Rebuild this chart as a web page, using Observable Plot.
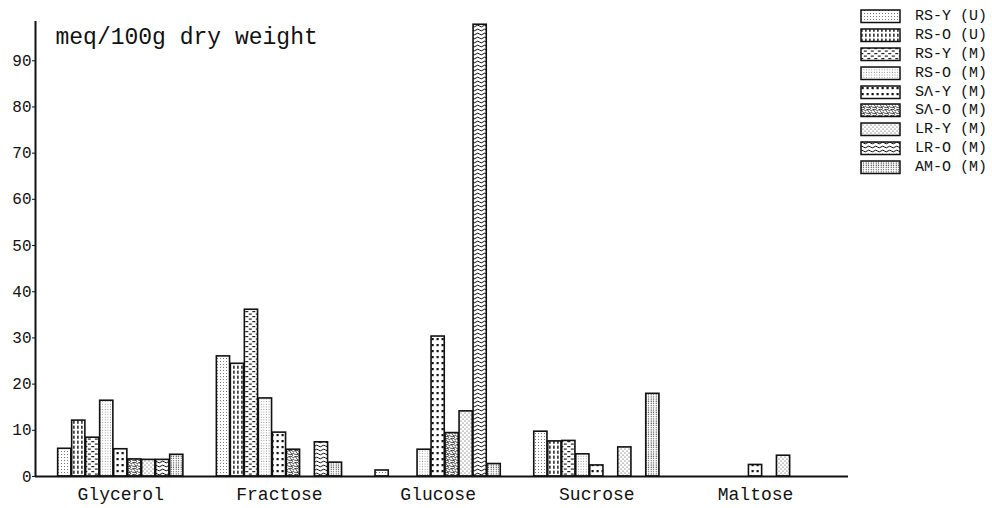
<!DOCTYPE html>
<html>
<head>
<meta charset="utf-8">
<script src="https://cdn.jsdelivr.net/npm/d3@7"></script>
<script src="https://cdn.jsdelivr.net/npm/@observablehq/plot@0.6"></script>
<style>
  html, body { margin: 0; padding: 0; background: white; }
  #wrap { position: relative; width: 992px; height: 508px; }
  #chart svg { display: block; }
  #legend { position: absolute; left: 860px; top: 7px; font-family: 'Liberation Mono', monospace; font-size: 15px; color: #111; }
  .lrow { display: flex; align-items: center; height: 18.9px; }
  .lrow span { margin-left: 13px; white-space: pre; }
</style>
</head>
<body>
<svg width="0" height="0" style="position:absolute">
  <defs>
    <pattern id="pat0" width="3" height="3" patternUnits="userSpaceOnUse"><rect width="3" height="3" fill="white"/><rect x="1" y="1" width="0.9" height="0.9" fill="#555"/></pattern>
    <pattern id="pat1" width="4" height="5" patternUnits="userSpaceOnUse"><rect width="4" height="5" fill="white"/><rect x="1.2" y="0.6" width="1.4" height="3.2" fill="#111"/></pattern>
    <pattern id="pat2" width="7" height="5" patternUnits="userSpaceOnUse"><rect width="7" height="5" fill="white"/><rect x="0.3" y="1" width="3" height="1.2" fill="#222"/><rect x="3.8" y="3.5" width="3" height="1.2" fill="#222"/></pattern>
    <pattern id="pat3" width="2.6" height="2.6" patternUnits="userSpaceOnUse"><rect width="2.6" height="2.6" fill="white"/><rect x="0.8" y="0.8" width="0.8" height="0.8" fill="#666"/></pattern>
    <pattern id="pat4" width="5" height="6" patternUnits="userSpaceOnUse"><rect width="5" height="6" fill="white"/><rect x="1.5" y="2" width="2.2" height="2.2" fill="#111"/></pattern>
    <pattern id="pat5" width="6" height="6" patternUnits="userSpaceOnUse"><rect width="6" height="6" fill="white"/><path d="M0 1 Q3 -1 6 2 M0 4 Q3 6 6 3 M1 0 L5 6" stroke="#222" stroke-width="0.8" fill="none"/></pattern>
    <pattern id="pat6" width="4" height="4" patternUnits="userSpaceOnUse"><rect width="4" height="4" fill="white"/><circle cx="1" cy="1" r="0.55" fill="#333"/><circle cx="3" cy="3" r="0.55" fill="#333"/></pattern>
    <pattern id="pat7" width="7" height="4" patternUnits="userSpaceOnUse"><rect width="7" height="4" fill="white"/><path d="M0 2 Q1.75 0.3 3.5 2 T7 2" stroke="#111" stroke-width="1" fill="none"/></pattern>
    <pattern id="pat8" width="2.5" height="2.2" patternUnits="userSpaceOnUse"><rect width="2.5" height="2.2" fill="white"/><rect x="0.7" y="0.3" width="0.9" height="1.2" fill="#222"/></pattern>
  </defs>
</svg>
<div id="wrap">
  <div id="chart"></div>
  <div id="legend"></div>
</div>
<script>
// ---- data ----
const categories = ["Glycerol", "Fractose", "Glucose", "Sucrose", "Maltose"];
const seriesNames = ["RS-Y (U)", "RS-O (U)", "RS-Y (M)", "RS-O (M)", "SΛ-Y (M)", "SΛ-O (M)", "LR-Y (M)", "LR-O (M)", "AM-O (M)"];
const rsYU = [6.0, 26.0, 1.3, 9.7, null];
const rsOU = [12.1, 24.4, null, 7.6, null];
const rsYM = [8.4, 36.1, null, 7.7, null];
const rsOM = [16.4, 16.9, 5.8, 4.8, null];
const saYM = [5.9, 9.5, 30.3, 2.4, 2.5];
const saOM = [3.7, 5.8, 9.4, null, null];
const lrYM = [3.6, null, 14.1, 6.3, 4.5];
const lrOM = [3.6, 7.4, 97.8, null, null];
const amOM = [4.7, 3.0, 2.7, 17.9, null];
const yTicks = [0, 10, 20, 30, 40, 50, 60, 70, 80, 90];
const unitLabel = "meq/100g dry weight";

// ---- layout helpers ----
const seriesValues = [rsYU, rsOU, rsYM, rsOM, saYM, saOM, lrYM, lrOM, amOM];
const pitch = 11.335;          // group pitch in bar-slot units
const xDomain = [-1.59, 56.48];
const rows = [];
seriesValues.forEach((vals, i) => vals.forEach((v, j) => {
  if (v != null) rows.push({series: seriesNames[i], cat: categories[j], i, j, value: v, x1: j * pitch + i, x2: j * pitch + i + 1});
}));
const centers = categories.map((c, j) => j * pitch + 4.5);

const chart = Plot.plot({
  width: 992, height: 508,
  marginLeft: 35, marginRight: 144, marginTop: 21, marginBottom: 32,
  x: {domain: xDomain},
  y: {domain: [0, 98.5]},
  style: {fontFamily: "'Liberation Mono', monospace", background: "white", color: "#111"},
  marks: [
    ...seriesNames.map((s, i) => Plot.rectY(rows.filter(r => r.i === i), {
      x1: "x1", x2: "x2", y: "value", insetLeft: 0.4, insetRight: 0.4,
      fill: `url(#pat${i})`, stroke: "#111", strokeWidth: 1.6
    })),
    Plot.ruleY([0], {stroke: "#111", strokeWidth: 2}),
    Plot.ruleX([xDomain[0]], {stroke: "#111", strokeWidth: 2}),
    Plot.axisY({ticks: yTicks, tickSize: 3, tickPadding: 1, fontSize: 16, label: null}),
    Plot.axisX({ticks: centers, tickFormat: d => categories[Math.round((d - 4.5) / pitch)], tickSize: 0, tickPadding: 11, fontSize: 18, label: null}),
    Plot.text([unitLabel], {frameAnchor: "top-left", dx: 20, dy: 6, fontSize: 23, fill: "#111"})
  ]
});
document.getElementById("chart").appendChild(chart);

// ---- legend ----
const legend = d3.select("#legend");
seriesNames.forEach((s, i) => {
  const row = legend.append("div").attr("class", "lrow");
  const sw = row.append("svg").attr("width", 42).attr("height", 15);
  sw.append("rect").attr("x", 1).attr("y", 1).attr("width", 39).attr("height", 12.5)
    .attr("fill", `url(#pat${i})`).attr("stroke", "#111").attr("stroke-width", 1.5);
  row.append("span").text(s);
});
</script>
</body>
</html>
